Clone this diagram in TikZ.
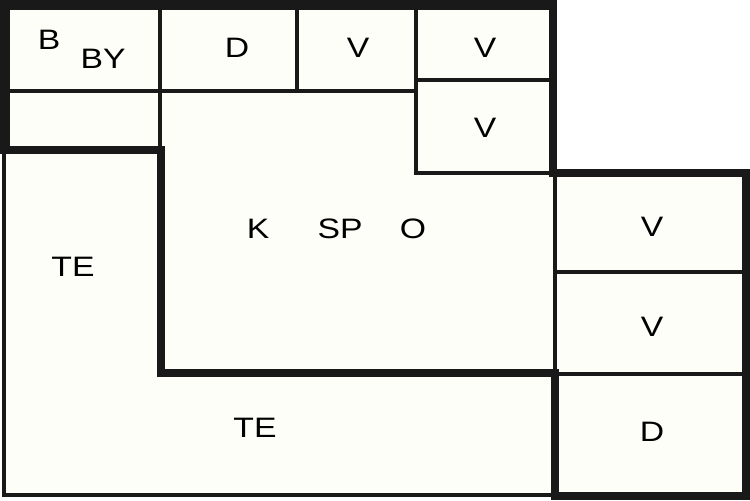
\documentclass[tikz,border=0pt]{standalone}
\usepackage{fontspec}
\setmainfont{Liberation Sans}
\definecolor{floor}{RGB}{254,254,248}
\newcommand{\widelbl}[1]{\scalebox{1.2}[1]{#1}}
\begin{document}
\begin{tikzpicture}[
			x=0.02cm, y=-0.02cm, % one unit = one pixel of the plan
			room/.style={draw=black!90, line width=2pt, fill=floor},
			wall/.style={draw=black!90, line width=4.6pt, line join=miter},
			lbl/.style={font=\fontsize{16}{18}\selectfont, inner sep=0pt}]
		\useasboundingbox (0,0) rectangle (750,500);
		% rooms
		\path[room] (8,8) rectangle (160,91);
		\path[room] (8,91) rectangle (160,150);
		\path[room] (160,8) rectangle (297,91);
		\path[room] (297,8) rectangle (416,91);
		\path[room] (416,8) rectangle (553,80);
		\path[room] (416,80) rectangle (553,173);
		\path[room] (160,91) -- (416,91) -- (416,173) -- (555,173) -- (555,373) -- (160,373) -- cycle;
		\path[room] (4,150) -- (160,150) -- (160,373) -- (555,373) -- (555,495) -- (4,495) -- cycle;
		\path[room] (555,173) rectangle (746,272);
		\path[room] (555,272) rectangle (746,374);
		\path[room] (555,374) rectangle (746,496);
		% outer walls
		\path[wall] (4,150) -- (4,4) -- (553,4) -- (553,173) -- (746,173) -- (746,496)
		        -- (555,496) -- (555,373) -- (161,373) -- (161,150) -- cycle;
		% labels
		\path 	(49,40) 	node 	(b)   [lbl] {\widelbl{B}}
		        (103,59) 	node 	(by)  [lbl] {\widelbl{BY}}
		        (237,48) 	node 	(d1)  [lbl] {\widelbl{D}}
		        (358,48) 	node 	(v1)  [lbl] {\widelbl{V}}
		        (485,48) 	node 	(v2)  [lbl] {\widelbl{V}}
		        (485,128) 	node 	(v3)  [lbl] {\widelbl{V}}
		        (258,229) 	node 	(k)   [lbl] {\widelbl{K}}
		        (340,229) 	node 	(sp)  [lbl] {\widelbl{SP}}
		        (413,229) 	node 	(o)   [lbl] {\widelbl{O}}
		        (73,267) 	node 	(te1) [lbl] {\widelbl{TE}}
		        (255,428) 	node 	(te2) [lbl] {\widelbl{TE}}
		        (652,227) 	node 	(v4)  [lbl] {\widelbl{V}}
		        (652,327) 	node 	(v5)  [lbl] {\widelbl{V}}
		        (652,432) 	node 	(d2)  [lbl] {\widelbl{D}};
	\end{tikzpicture}
\end{document}
